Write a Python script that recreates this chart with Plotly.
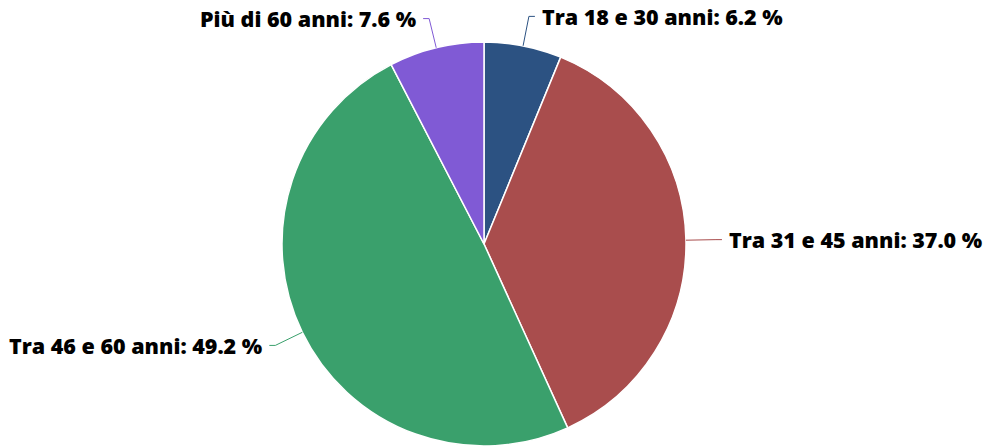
import math
import plotly.graph_objects as go

labels = ["Tra 18 e 30 anni", "Tra 31 e 45 anni", "Tra 46 e 60 anni", "Più di 60 anni"]
values = [6.2, 37.0, 49.2, 7.6]
colors = ["#2c5282", "#a94d4d", "#3aa06c", "#805ad5"]

W, H = 986, 446
CX, CY, R = 484, 244, 202
DIST = 30

fig = go.Figure(go.Pie(
    labels=labels, values=values, sort=False, direction="clockwise", rotation=0,
    marker=dict(colors=colors, line=dict(color="#ffffff", width=1.5)),
    textinfo="none", hoverinfo="label+percent", showlegend=False,
    domain=dict(x=[(CX - R) / W, (CX + R) / W], y=[(H - CY - R) / H, (H - CY + R) / H]),
))

def px(x):
    return x / W

def py(y):
    return 1 - y / H

total = sum(values)
cum = 0
annotations = []
shapes = []
for lab, v, c in zip(labels, values, colors):
    mid = (cum + v / 2) / total * 2 * math.pi
    cum += v
    s, co = math.sin(mid), math.cos(mid)
    ex, ey = CX + R * s, CY - R * co
    lx, ly = CX + (R + DIST) * s, CY - (R + DIST) * co
    side = 1 if s >= 0 else -1
    hx = lx + side * 6
    shapes.append(dict(type="path", xref="paper", yref="paper",
                       path=f"M {px(ex)} {py(ey)} L {px(lx)} {py(ly)} L {px(hx)} {py(ly)}",
                       line=dict(color=c, width=1)))
    annotations.append(dict(
        x=px(hx + side * 5), y=py(ly), xref="paper", yref="paper",
        text=f"{lab}: {v:.1f} %", showarrow=False,
        xanchor="left" if side > 0 else "right", yanchor="middle",
        font=dict(family="Open Sans", size=21.5, color="#000000", weight=800),
    ))

fig.update_layout(
    width=W, height=H, margin=dict(l=0, r=0, t=0, b=0),
    paper_bgcolor="#ffffff", plot_bgcolor="#ffffff",
    annotations=annotations, shapes=shapes,
)
fig.write_html("out.html", config={"displayModeBar": False},
               post_script="document.body.style.margin='0';document.body.style.overflow='hidden';")
